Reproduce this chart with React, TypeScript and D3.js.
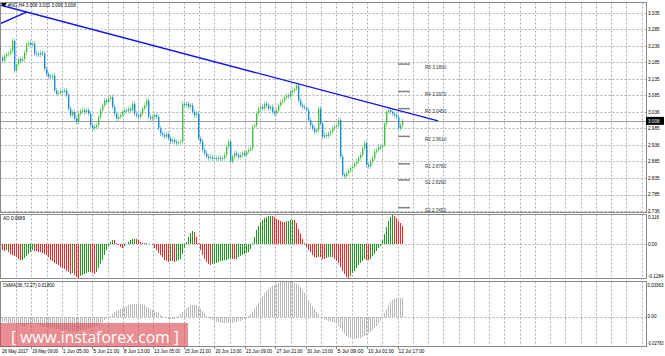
import React from "react";
import * as d3 from "d3";

// ---------- DATA ----------
const firstOpen = 3.2;
const closes = [
  3.190,3.205,3.210,3.212,3.220,3.250,3.160,3.180,3.195,3.190,
  3.195,3.215,3.240,3.244,3.238,3.242,3.212,3.210,3.208,3.215,
  3.212,3.165,3.150,3.142,3.140,3.145,3.100,3.090,3.093,3.098,
  3.096,3.100,3.085,3.045,3.025,3.035,3.015,3.005,3.030,3.038,
  3.040,3.035,3.040,3.030,2.995,2.985,2.990,2.995,3.020,3.040,
  3.055,3.070,3.065,3.075,3.080,3.050,3.030,3.015,3.020,3.025,
  3.035,3.040,3.038,3.045,3.040,3.060,3.030,3.025,3.020,3.030,
  3.045,3.055,3.070,3.020,3.015,3.020,3.025,3.020,2.985,2.970,
  2.965,2.960,2.968,2.955,2.945,2.950,2.945,2.940,2.942,2.945,
  3.060,3.055,3.060,3.050,3.055,3.035,3.025,3.030,2.955,2.945,
  2.920,2.910,2.900,2.895,2.898,2.893,2.895,2.893,2.897,2.893,
  2.895,2.905,2.930,2.945,2.885,2.900,2.910,2.905,2.898,2.905,
  2.910,2.905,2.915,2.920,2.925,2.990,2.995,3.030,3.045,3.050,
  3.045,3.060,3.055,3.045,3.050,3.035,3.030,3.040,3.055,3.065,
  3.070,3.080,3.085,3.082,3.095,3.100,3.105,3.115,3.070,3.055,
  3.050,3.048,3.040,3.010,2.995,2.985,2.975,2.980,3.045,3.000,
  2.960,2.965,2.962,2.970,2.975,2.985,2.990,2.995,3.010,2.900,
  2.845,2.840,2.850,2.858,2.865,2.870,2.878,2.885,2.895,2.905,
  2.925,2.940,2.875,2.870,2.885,2.895,2.915,2.920,2.930,2.928,
  2.935,3.000,3.035,3.040,3.035,3.030,3.025,3.020,2.985,2.995,
  3.008,
];

const aoValues = [
  -0.020,-0.025,-0.022,-0.028,-0.035,-0.040,-0.045,-0.050,-0.055,-0.060,
  -0.058,-0.052,-0.045,-0.038,-0.030,-0.022,-0.024,-0.026,-0.028,-0.030,
  -0.033,-0.036,-0.042,-0.050,-0.058,-0.064,-0.070,-0.076,-0.080,-0.085,
  -0.090,-0.095,-0.100,-0.106,-0.112,-0.110,-0.118,-0.125,-0.128,-0.122,
  -0.118,-0.115,-0.110,-0.105,-0.106,-0.110,-0.112,-0.105,-0.090,-0.075,
  -0.058,-0.040,-0.022,-0.005,0.010,0.018,0.015,0.006,-0.004,-0.010,
  -0.012,-0.006,0.002,0.010,0.016,0.020,0.022,0.020,0.016,0.010,
  0.006,0.004,0.005,0.003,0.001,-0.004,-0.012,-0.022,-0.032,-0.042,
  -0.050,-0.058,-0.063,-0.066,-0.062,-0.064,-0.066,-0.064,-0.060,-0.055,
  -0.035,-0.015,0.010,0.030,0.045,0.052,0.048,0.030,0.005,-0.020,
  -0.040,-0.055,-0.068,-0.075,-0.078,-0.076,-0.072,-0.070,-0.068,-0.065,
  -0.062,-0.060,-0.058,-0.055,-0.052,-0.054,-0.056,-0.054,-0.050,-0.046,
  -0.042,-0.038,-0.034,-0.030,-0.018,0.005,0.030,0.055,0.072,0.085,
  0.094,0.100,0.105,0.108,0.110,0.108,0.104,0.098,0.092,0.088,
  0.085,0.084,0.088,0.091,0.093,0.094,0.092,0.080,0.060,0.040,
  0.020,0.005,-0.010,-0.020,-0.030,-0.040,-0.048,-0.052,-0.048,-0.050,
  -0.054,-0.056,-0.052,-0.050,-0.048,-0.050,-0.056,-0.062,-0.072,-0.085,
  -0.100,-0.115,-0.125,-0.1284,-0.120,-0.110,-0.100,-0.090,-0.080,-0.072,
  -0.062,-0.055,-0.058,-0.060,-0.056,-0.045,-0.035,-0.025,-0.015,-0.005,
  0.015,0.040,0.065,0.090,0.105,0.116,0.108,0.100,0.090,0.080,
  0.0689,
];

const osmaValues = [
  -0.005,-0.005,-0.0055,-0.006,-0.006,-0.006,-0.0065,-0.007,-0.0075,-0.008,
  -0.0085,-0.0085,-0.008,-0.0075,-0.007,-0.0065,-0.0065,-0.007,-0.0075,-0.008,
  -0.0085,-0.009,-0.0095,-0.010,-0.0105,-0.011,-0.0115,-0.012,-0.012,-0.0125,
  -0.0125,-0.013,-0.013,-0.0135,-0.0135,-0.0135,-0.0135,-0.0135,-0.013,-0.013,
  -0.0125,-0.012,-0.0115,-0.011,-0.0105,-0.010,-0.0095,-0.009,-0.008,-0.0065,
  -0.005,-0.0035,-0.002,-0.0005,0.001,0.0025,0.004,0.005,0.006,0.007,
  0.008,0.009,0.0098,0.0105,0.011,0.0115,0.0118,0.012,0.012,0.0118,
  0.0112,0.0105,0.0095,0.0085,0.0075,0.0065,0.0055,0.0045,0.003,0.0015,
  0.0005,-0.0005,-0.0015,-0.002,-0.0025,-0.0025,-0.002,-0.001,0.0005,0.002,
  0.004,0.006,0.008,0.0095,0.0105,0.011,0.011,0.0105,0.009,0.007,
  0.005,0.003,0.001,-0.001,-0.0025,-0.0035,-0.0045,-0.005,-0.0055,-0.006,
  -0.0062,-0.0064,-0.0065,-0.0065,-0.0063,-0.006,-0.0055,-0.005,-0.0045,-0.004,
  -0.003,-0.002,-0.001,0.0005,0.002,0.004,0.007,0.010,0.013,0.016,
  0.019,0.022,0.0245,0.0265,0.028,0.029,0.030,0.031,0.0318,0.0325,
  0.033,0.0334,0.03363,0.0335,0.0332,0.0328,0.032,0.031,0.0295,0.0275,
  0.025,0.022,0.019,0.016,0.013,0.010,0.007,0.0045,0.002,0.0,
  -0.0015,-0.003,-0.0035,-0.004,-0.0045,-0.005,-0.006,-0.0075,-0.009,-0.011,
  -0.0135,-0.016,-0.018,-0.0195,-0.0205,-0.021,-0.0212,-0.021,-0.0205,-0.0198,
  -0.019,-0.018,-0.017,-0.016,-0.0145,-0.013,-0.011,-0.009,-0.0065,-0.004,
  -0.001,0.003,0.007,0.0105,0.0135,0.016,0.017,0.0175,0.0178,0.018,
  0.018,
];

const priceTicks = [3.335, 3.285, 3.235, 3.185, 3.135, 3.085, 3.035, 2.985, 2.935, 2.885, 2.835, 2.785, 2.735];
const priceTickLabels = ["3.335", "3.285", "3.236", "3.185", "3.135", "3.085", "3.036", "2.985", "2.936", "2.885", "2.835", "2.785", "2.736"];
const currentPrice = 3.008;
const currentPriceLabel = "3.008";

const pivotNames = ["R5", "R4", "R3", "R2", "R1", "S1", "S2"];
const pivotValues = [3.18, 3.097, 3.045, 2.961, 2.878, 2.829, 2.745];

const trendBars = [-1, 218];
const trendPrices = [3.359, 3.008];
const trend2Bars = [-1, 12.5];
const trend2Prices = [3.302, 3.338];

const dateLabels = [
  "26 May 2017", "29 May 09:00", "1 Jun 05:00", "5 Jun 21:00", "8 Jun 13:00",
  "13 Jun 05:00", "15 Jun 21:00", "20 Jun 13:00", "23 Jun 09:00", "27 Jun 21:00",
  "30 Jun 13:00", "5 Jul 09:00", "10 Jul 01:00", "12 Jul 17:00",
];

const aoTicks = [0.116, 0, -0.1284];
const aoTickLabels = ["0.116", "0.00", "-0.1284"];
const osmaTicks = [0.03363, 0, -0.02783];
const osmaTickLabels = ["0.03363", "0.00", "-0.02783"];

const headerText = "#NG,H4 3.008 3.010 3.006 3.008";
const aoTitle = "AO 0.0689";
const osmaTitle = "OsMA(36,72,27) 0.01800";
const watermark = "[ www.instaforex.com ]";

// ---------- LAYOUT ----------
const W = 665, H = 356;
const L = 0.5, R = 646.5;
const main = { top: 2.5, bottom: 212.5 };
const aoP = { top: 214.5, bottom: 278.5 };
const osP = { top: 281.5, bottom: 346.5 };
const FONT = "'Liberation Sans', Arial, sans-serif";
const GRID = "#a8b0ba";

export default function App() {
  const n = closes.length;
  const x = d3.scaleLinear().domain([0, n - 1]).range([2, 402]);
  const y = d3.scaleLinear().domain([2.732, 3.368]).range([212, 2]);
  const yAO = d3.scaleLinear().domain([-0.1284, 0.116]).range([278, 214]);
  const yOS = d3.scaleLinear().domain([-0.02783, 0.03363]).range([346, 281]);
  const gx = d3.scaleLinear().domain([0, 41]).range([16, 641.7]);
  const gridIdx = d3.range(0, 42);

  const line = d3.line<[number, number]>().x((d) => x(d[0])).y((d) => y(d[1]));
  const trend = line(trendBars.map((b, i) => [b, trendPrices[i]] as [number, number])) || "";
  const trend2 = line(trend2Bars.map((b, i) => [b, trend2Prices[i]] as [number, number])) || "";

  const vGrid = (top: number, bottom: number, key: string) =>
    gridIdx.map((k) => (
      <line key={key + k} x1={Math.round(gx(k)) + 0.5} x2={Math.round(gx(k)) + 0.5} y1={top} y2={bottom}
        stroke={GRID} strokeWidth={1} strokeDasharray="2,2" />
    ));

  const textProps = { fontFamily: FONT, fontSize: 5.2, fill: "#000" } as const;
  const smallText = { fontFamily: FONT, fontSize: 4.6, fill: "#000" } as const;

  return (
    <svg width={W} height={H} style={{ position: "absolute", left: 0, top: 0, background: "#fff" }}>
      <defs>
        <clipPath id="mainClip"><rect x={L} y={main.top} width={R - L} height={main.bottom - main.top} /></clipPath>
      </defs>
      <rect x={0} y={0} width={W} height={H} fill="#fff" />

      {/* ---------- Main panel ---------- */}
      {vGrid(main.top, main.bottom, "mg")}
      {priceTicks.map((p, i) => (
        <line key={"hg" + i} x1={L} x2={R} y1={Math.round(y(p)) + 0.5} y2={Math.round(y(p)) + 0.5}
          stroke={GRID} strokeDasharray="2,2" />
      ))}
      <line x1={L} x2={R} y1={Math.round(y(currentPrice)) + 0.5} y2={Math.round(y(currentPrice)) + 0.5} stroke="#a0a0a0" />

      {pivotValues.map((p, i) => (
        <g key={"pv" + i}>
          <line x1={398} x2={410} y1={y(p)} y2={y(p)} stroke="#808080" strokeWidth={1.5} />
          <text x={425} y={y(p) + 4.5} {...smallText} fill="#333">{pivotNames[i] + " " + p.toFixed(4)}</text>
        </g>
      ))}

      <g clipPath="url(#mainClip)">
        {closes.map((c, i) => {
          const o = i === 0 ? firstOpen : closes[i - 1];
          const up = c >= o;
          const yTop = y(Math.max(o, c));
          const yBot = y(Math.min(o, c));
          const cx = x(i);
          return (
            <g key={"c" + i}>
              <line x1={cx + 0.5} x2={cx + 0.5} y1={yTop - 2.5} y2={yBot + 2.5} stroke={up ? "#9fe09f" : "#8fcaf0"} strokeWidth={1} />
              <rect x={cx} y={yTop} width={1.4} height={Math.max(1, yBot - yTop)} fill={up ? "#45bf45" : "#1a8ad2"} />
            </g>
          );
        })}
        <path d={trend} stroke="#1010f0" strokeWidth={1.3} fill="none" />
        <path d={trend2} stroke="#1010f0" strokeWidth={1.3} fill="none" />
      </g>

      <rect x={L} y={main.top} width={R - L} height={main.bottom - main.top} fill="none" stroke="#8a8a8a" />
      <path d="M1,3 L7,3 L4,7 Z" fill="#000" />
      <text x={8} y={7} {...smallText}>{headerText}</text>

      {priceTicks.map((p, i) => (
        <text key={"pl" + i} x={648} y={y(p) + 1.8} {...smallText}>{priceTickLabels[i]}</text>
      ))}
      <rect x={646} y={y(currentPrice) - 4} width={18} height={8} fill="#000" />
      <text x={648} y={y(currentPrice) + 1.8} {...smallText} fill="#fff">{currentPriceLabel}</text>

      {/* ---------- AO panel ---------- */}
      {vGrid(aoP.top, aoP.bottom, "ag")}
      <line x1={L} x2={R} y1={Math.round(yAO(0)) + 0.5} y2={Math.round(yAO(0)) + 0.5} stroke={GRID} strokeDasharray="2,2" />
      {aoValues.map((v, i) => {
        const up = i === 0 ? false : v > aoValues[i - 1];
        const y0 = yAO(0), y1 = yAO(v);
        return (
          <rect key={"ao" + i} x={x(i)} y={Math.min(y0, y1)} width={1} height={Math.abs(y1 - y0)}
            fill={up ? "#1d9a1d" : "#ff2424"} shapeRendering="crispEdges" />
        );
      })}
      <rect x={L} y={aoP.top} width={R - L} height={aoP.bottom - aoP.top} fill="none" stroke="#8a8a8a" />
      <text x={3} y={220} {...smallText}>{aoTitle}</text>
      {aoTicks.map((t, i) => (
        <text key={"at" + i} x={648} y={Math.min(Math.max(yAO(t), 217), 276) + 1.8} {...smallText}>{aoTickLabels[i]}</text>
      ))}

      {/* ---------- OsMA panel ---------- */}
      {vGrid(osP.top, osP.bottom, "og")}
      <line x1={L} x2={R} y1={Math.round(yOS(0)) + 0.5} y2={Math.round(yOS(0)) + 0.5} stroke={GRID} strokeDasharray="2,2" />
      {osmaValues.map((v, i) => {
        const y0 = yOS(0), y1 = yOS(v);
        return (
          <rect key={"os" + i} x={x(i)} y={Math.min(y0, y1)} width={1} height={Math.abs(y1 - y0)} fill="#b8b8b8"
            shapeRendering="crispEdges" />
        );
      })}
      <rect x={L} y={osP.top} width={R - L} height={osP.bottom - osP.top} fill="none" stroke="#8a8a8a" />
      <text x={3} y={287} {...smallText}>{osmaTitle}</text>
      {osmaTicks.map((t, i) => (
        <text key={"ot" + i} x={647.5} y={Math.min(Math.max(yOS(t), 285), 343) + 1.8} {...smallText}
          textLength={osmaTickLabels[i].length > 4 ? 16 : undefined} lengthAdjust="spacingAndGlyphs">{osmaTickLabels[i]}</text>
      ))}

      {/* ---------- Watermark ---------- */}
      <rect x={0} y={323} width={188} height={24} fill="#d9434a" opacity={0.6} />
      <text x={11} y={343} fontFamily="'Open Sans', 'DejaVu Sans', sans-serif" fontSize={17} fill="#fff"
        textLength={168} lengthAdjust="spacingAndGlyphs">{watermark}</text>

      {/* ---------- Date labels ---------- */}
      {dateLabels.map((d, i) => {
        const lx = i === 0 ? 2 : gx(2 * i - 1);
        return (
          <g key={"d" + i}>
            {i > 0 && <line x1={Math.round(lx) + 0.5} x2={Math.round(lx) + 0.5} y1={346} y2={349} stroke="#8a8a8a" />}
            <text x={lx + (i === 0 ? 0 : 1)} y={353} {...smallText} textLength={26} lengthAdjust="spacingAndGlyphs">{d}</text>
          </g>
        );
      })}
    </svg>
  );
}
